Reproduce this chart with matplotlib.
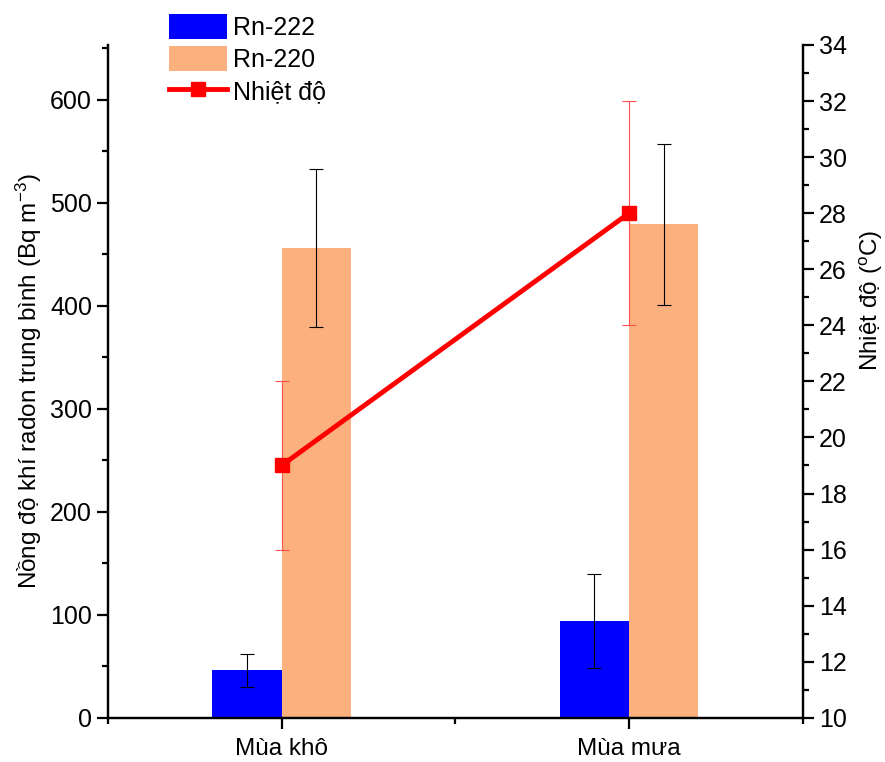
import numpy as np
import matplotlib
matplotlib.use('Agg')
import matplotlib.pyplot as plt
from matplotlib.ticker import MultipleLocator

plt.rcParams['font.family'] = ['Liberation Sans', 'DejaVu Sans']
plt.rcParams['mathtext.default'] = 'regular'

seasons = ['Mùa khô', 'Mùa mưa']
rn222 = [46, 94]
rn222_err = [16, 46]
rn220 = [456, 479]
rn220_err = [77, 78]
temp = [19, 28]
temp_err = [3, 4]

x = np.arange(1, len(seasons) + 1)
w = 0.2

fig = plt.figure(figsize=(8.85, 7.62), dpi=100)
ax = fig.add_axes([0.122, 0.058, 0.785, 0.883])
ax2 = ax.twinx()

ekw = dict(ecolor='black', elinewidth=0.8, capsize=4.7, capthick=0.8)
b1 = ax.bar(x - w / 2, rn222, w, color='#0000ff', yerr=rn222_err, error_kw=ekw)
b2 = ax.bar(x + w / 2, rn220, w, color='#fbb07e', yerr=rn220_err, error_kw=ekw)

ax2.errorbar(x, temp, yerr=temp_err, fmt='none', ecolor='#ff5050',
             elinewidth=0.8, capsize=4.7, capthick=0.8)
ln, = ax2.plot(x, temp, color='#ff0000', lw=3.5, marker='s', markersize=9.5,
               label='Nhiệt độ')

ax.set_xlim(0.5, 2.5)
ax.set_ylim(0, 653)
ax2.set_ylim(10, 34)
ax.set_xticks(x)
ax.set_xticklabels(seasons)
ax.xaxis.set_minor_locator(MultipleLocator(0.5))
ax.yaxis.set_major_locator(MultipleLocator(100))
ax.yaxis.set_minor_locator(MultipleLocator(50))
ax2.yaxis.set_major_locator(MultipleLocator(2))
ax2.yaxis.set_minor_locator(MultipleLocator(1))

for a in (ax, ax2):
    a.spines['top'].set_visible(False)
    for s in a.spines.values():
        s.set_linewidth(1.6)
    a.tick_params(which='major', length=8, width=1.6, labelsize=18, direction='out')
    a.tick_params(which='minor', length=4, width=1.6, direction='out')
ax.tick_params(axis='x', labelsize=17.5, pad=6.5)

ax.set_ylabel('Nồng độ khí radon trung bình (Bq m$^{-3}$)', fontsize=17.5)
ax2.set_ylabel('Nhiệt độ ($^{o}$C)', fontsize=17.5)
ax2.yaxis.set_label_coords(1.08, 0.62)

fig.legend([b1, b2, ln], ['Rn-222', 'Rn-220', 'Nhiệt độ'],
           loc='upper left', bbox_to_anchor=(0.191, 0.982), frameon=False,
           fontsize=18, handlelength=2.32, handleheight=1.16, borderpad=0,
           labelspacing=0.26, handletextpad=0.24, borderaxespad=0)

fig.savefig('out.png', dpi=100)
